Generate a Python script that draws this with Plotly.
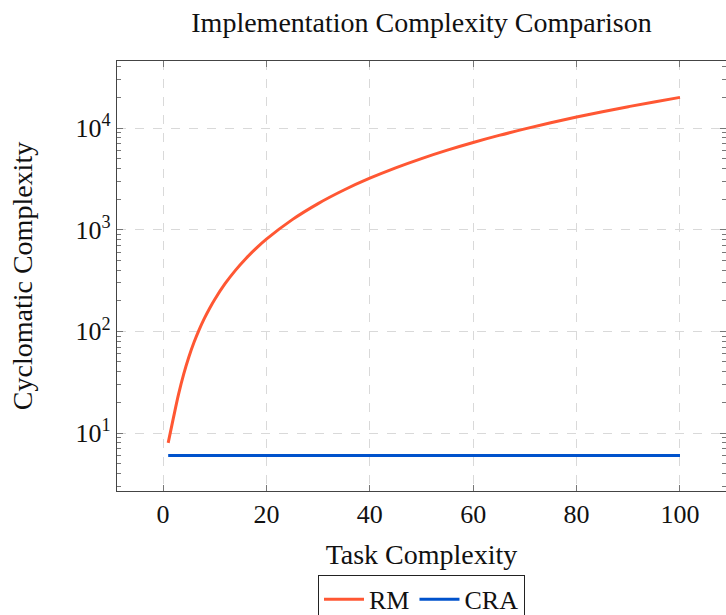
import plotly.graph_objects as go

# Data
task_x = [1, 2, 3, 4, 5, 6, 7, 8, 9, 10, 12, 14, 16, 18, 20, 25, 30, 35, 40, 45, 50,
          55, 60, 65, 70, 75, 80, 85, 90, 95, 100]
rm_y = [8, 14, 24, 38, 56, 78, 104, 134, 168, 206, 294, 398, 518, 654, 806, 1256,
        1806, 2456, 3206, 4056, 5006, 6056, 7206, 8456, 9806, 11256, 12806, 14456,
        16206, 18056, 20006]
cra_x = [1, 100]
cra_y = [6, 6]

series_names = ["RM", "CRA"]
series_colors = ["#FF5733", "#0052CC"]

x_ticks = [0, 20, 40, 60, 80, 100]
y_tickvals = [10, 100, 1000, 10000]
y_ticktext = ["10<sup>1</sup>", "10<sup>2</sup>", "10<sup>3</sup>", "10<sup>4</sup>"]

FONT = "Liberation Serif"
TXT = "#111"

fig = go.Figure()
fig.add_trace(go.Scatter(x=task_x, y=rm_y, mode="lines", name=series_names[0],
                         line=dict(color=series_colors[0], width=3, shape="spline")))
fig.add_trace(go.Scatter(x=cra_x, y=cra_y, mode="lines", name=series_names[1],
                         line=dict(color=series_colors[1], width=3)))

axis_common = dict(
    showline=True, linecolor="#444", linewidth=1.2, mirror="ticks",
    ticks="inside", tickcolor="#777", ticklen=6, tickwidth=1.2,
    showgrid=True, gridcolor="#d9d9d9", griddash="dash", gridwidth=1,
    zeroline=False,
    tickfont=dict(family=FONT, size=26, color=TXT),
)

fig.update_layout(
    width=726, height=615,
    margin=dict(l=117, r=0, t=61, b=124, autoexpand=False),
    paper_bgcolor="white", plot_bgcolor="white",
    title=dict(text="Implementation Complexity Comparison", x=0.5, xref="paper",
               xanchor="center", y=1 - 22 / 615, yanchor="middle",
               font=dict(family=FONT, size=28, color=TXT)),
    xaxis=dict(range=[-8.9, 108.9], tickvals=x_ticks,
               title=dict(text="Task Complexity", font=dict(family=FONT, size=28, color=TXT),
                          standoff=16),
               **axis_common),
    yaxis=dict(type="log", range=[0.43, 4.659], tickvals=y_tickvals, ticktext=y_ticktext,
               minor=dict(ticks="inside", ticklen=4, tickcolor="#777", dtick="D1", showgrid=False),
               title=dict(text="Cyclomatic Complexity", font=dict(family=FONT, size=28, color=TXT),
                          standoff=34),
               **axis_common),
    legend=dict(orientation="h", x=0.5, xanchor="center", xref="paper",
                y=-0.195, yanchor="top",
                bordercolor="#222", borderwidth=1, bgcolor="white",
                font=dict(family=FONT, size=26, color=TXT),
                itemwidth=40, tracegroupgap=0),
    showlegend=True,
)

fig.write_html("out.html")
